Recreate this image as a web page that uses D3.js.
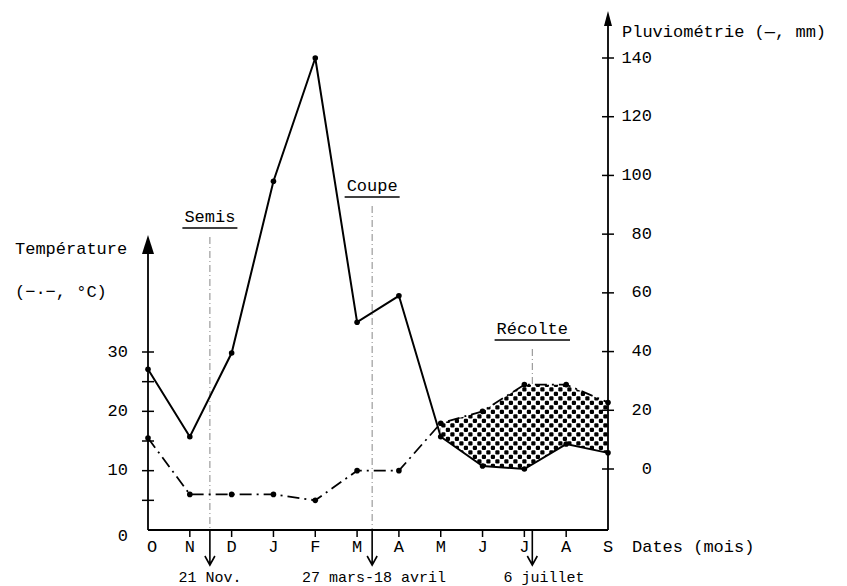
<!DOCTYPE html>
<html>
<head>
<meta charset="utf-8">
<script src="https://cdn.jsdelivr.net/npm/d3@7"></script>
<style>
  body { margin: 0; background: #fff; }
  text { font-family: "Liberation Mono", "DejaVu Sans Mono", monospace; fill: #000; }
</style>
</head>
<body>
<script>
// months of the season, Oct -> Sept
var months = ["O", "N", "D", "J", "F", "M", "A", "M", "J", "J", "A", "S"];
// rainfall, mm (solid line)
var rainfall = [34, 11, 39.5, 98, 140, 50, 59, 11, 1, 0, 8.5, 5.5];
// temperature, °C (dash-dot line)
var temperature = [15.5, 6, 6, 6, 5, 10, 10, 18, 20, 24.5, 24.5, 21.5];
var rainTicks = [0, 20, 40, 60, 80, 100, 120, 140];
var tempTicks = [5, 10, 15, 20, 25, 30];
var tempLabels = [0, 10, 20, 30];
// events : label, position in month index, date text
var events = ["Semis", "Coupe", "Récolte"];
var eventPos = [1.48, 5.36, 9.19];
var eventDates = ["21 Nov.", "27 mars-18 avril", "6 juillet"];

var width = 847, height = 586;
var x0 = 148, x1 = 608, yAxis = 530;

var svg = d3.select("body").append("svg")
    .attr("width", width)
    .attr("height", height);

var defs = svg.append("defs");
var pat = defs.append("pattern")
    .attr("id", "checker")
    .attr("patternUnits", "userSpaceOnUse")
    .attr("width", 9).attr("height", 9);
pat.append("rect").attr("x", 0.3).attr("y", 0.3).attr("width", 4.2).attr("height", 4.2).attr("rx", 1.2).attr("fill", "#000");
pat.append("rect").attr("x", 4.8).attr("y", 4.8).attr("width", 4.2).attr("height", 4.2).attr("rx", 1.2).attr("fill", "#000");

var x = d3.scaleLinear().domain([0, months.length - 1]).range([x0, x1]);
var yRain = d3.scaleLinear().domain([0, 140]).range([469, 58]);
var yTemp = d3.scaleLinear().domain([0, 30]).range([yAxis, 352]);

var idx = d3.range(months.length);

// checkered area between temperature and rainfall, May -> Sept
var area = d3.area()
    .x(function(i) { return x(i); })
    .y0(function(i) { return yRain(rainfall[i]); })
    .y1(function(i) { return yTemp(temperature[i]); });
svg.append("path")
    .datum(idx.slice(7))
    .attr("d", area)
    .attr("fill", "url(#checker)");

// event guide lines (dotted)
var labelY = [217, 186, 329];
events.forEach(function(name, k) {
  var ex = x(eventPos[k]);
  var yEnd = yAxis;
  if (k == 2) {
    var i = Math.floor(eventPos[k]), f = eventPos[k] - i;
    yEnd = yTemp(temperature[i] + (temperature[i + 1] - temperature[i]) * f);
  }
  svg.append("line")
      .attr("x1", ex).attr("x2", ex)
      .attr("y1", labelY[k] + 20).attr("y2", yEnd)
      .attr("stroke", "#888").attr("stroke-width", 1)
      .attr("stroke-dasharray", "7,3,1,3");

  var t = svg.append("text")
      .attr("x", ex).attr("y", labelY[k])
      .attr("text-anchor", "middle")
      .attr("dominant-baseline", "central")
      .style("font-size", "17px")
      .text(name);
  var w = t.node().getComputedTextLength();
  svg.append("line")
      .attr("x1", ex - w / 2 - 2).attr("x2", ex + w / 2 + 2)
      .attr("y1", labelY[k] + 11).attr("y2", labelY[k] + 11)
      .attr("stroke", "#000").attr("stroke-width", 1.3);

  // arrow under the axis
  svg.append("path")
      .attr("d", "M" + ex + "," + yAxis + "V" + 565 + "M" + (ex - 5) + "," + 556 + "L" + ex + "," + 565 + "L" + (ex + 5) + "," + 556)
      .attr("fill", "none").attr("stroke", "#000").attr("stroke-width", 1.6);
});

var dateX = [210, 374, 544];
svg.selectAll(".date")
    .data(eventDates)
    .enter().append("text")
    .attr("class", "date")
    .attr("x", function(d, i) { return dateX[i]; })
    .attr("y", 578)
    .attr("text-anchor", "middle")
    .attr("dominant-baseline", "central")
    .style("font-size", "15px")
    .text(function(d) { return d; });

// axes
var axes = svg.append("g").attr("stroke", "#000").attr("stroke-width", 1.8).attr("fill", "none");
axes.append("line").attr("x1", x0).attr("x2", x1).attr("y1", yAxis).attr("y2", yAxis);
axes.append("line").attr("x1", x0).attr("x2", x0).attr("y1", 250).attr("y2", yAxis);
axes.append("line").attr("x1", x1).attr("x2", x1).attr("y1", 22).attr("y2", yAxis);
svg.append("path").attr("d", "M" + x0 + ",235L" + (x0 - 6) + ",254L" + (x0 + 6) + ",254Z").attr("fill", "#000");
svg.append("path").attr("d", "M" + x1 + ",11L" + (x1 - 4) + ",26L" + (x1 + 4) + ",26Z").attr("fill", "#000");

// left axis ticks
svg.selectAll(".ltick")
    .data(tempTicks)
    .enter().append("line")
    .attr("x1", x0 - 6).attr("x2", x0 + 6)
    .attr("y1", function(d) { return yTemp(d); })
    .attr("y2", function(d) { return yTemp(d); })
    .attr("stroke", "#000").attr("stroke-width", 1.5);
svg.selectAll(".llab")
    .data(tempLabels)
    .enter().append("text")
    .attr("x", 128)
    .attr("y", function(d) { return yTemp(d) + (d == 0 ? 6 : 0); })
    .attr("text-anchor", "end")
    .attr("dominant-baseline", "central")
    .style("font-size", "17px")
    .text(function(d) { return d; });

// right axis ticks
svg.selectAll(".rtick")
    .data(rainTicks)
    .enter().append("line")
    .attr("x1", x1 - 6).attr("x2", x1 + 6)
    .attr("y1", function(d) { return yRain(d); })
    .attr("y2", function(d) { return yRain(d); })
    .attr("stroke", "#000").attr("stroke-width", 1.5);
svg.selectAll(".rlab")
    .data(rainTicks)
    .enter().append("text")
    .attr("x", 652)
    .attr("y", function(d) { return yRain(d); })
    .attr("text-anchor", "end")
    .attr("dominant-baseline", "central")
    .style("font-size", "17px")
    .text(function(d) { return d; });

// month ticks and labels
svg.selectAll(".mtick")
    .data(idx.slice(1, 11))
    .enter().append("line")
    .attr("x1", function(i) { return x(i); })
    .attr("x2", function(i) { return x(i); })
    .attr("y1", yAxis).attr("y2", yAxis + 7)
    .attr("stroke", "#000").attr("stroke-width", 1.5);
svg.selectAll(".mlab")
    .data(months)
    .enter().append("text")
    .attr("x", function(d, i) { return i == 0 ? x(i) + 4 : x(i); })
    .attr("y", 547)
    .attr("text-anchor", "middle")
    .attr("dominant-baseline", "central")
    .style("font-size", "17px")
    .text(function(d) { return d; });

// lines
var rainLine = d3.line()
    .x(function(i) { return x(i); })
    .y(function(i) { return yRain(rainfall[i]); });
var tempLine = d3.line()
    .x(function(i) { return x(i); })
    .y(function(i) { return yTemp(temperature[i]); });

svg.append("path")
    .datum(idx)
    .attr("d", rainLine)
    .attr("fill", "none").attr("stroke", "#000").attr("stroke-width", 2);
svg.append("path")
    .datum(idx)
    .attr("d", tempLine)
    .attr("fill", "none").attr("stroke", "#000").attr("stroke-width", 1.8)
    .attr("stroke-dasharray", "12,5,2,5");

svg.selectAll(".rdot")
    .data(idx)
    .enter().append("circle")
    .attr("cx", function(i) { return x(i); })
    .attr("cy", function(i) { return yRain(rainfall[i]); })
    .attr("r", 2.8).attr("fill", "#000");
svg.selectAll(".tdot")
    .data(idx)
    .enter().append("circle")
    .attr("cx", function(i) { return x(i); })
    .attr("cy", function(i) { return yTemp(temperature[i]); })
    .attr("r", 2.8).attr("fill", "#000");

// titles
svg.append("text").attr("x", 15).attr("y", 249)
    .attr("dominant-baseline", "central").style("font-size", "17px")
    .text("Température");
svg.append("text").attr("x", 15).attr("y", 292)
    .attr("dominant-baseline", "central").style("font-size", "17px")
    .text("(−·−, °C)");
svg.append("text").attr("x", 622).attr("y", 32)
    .attr("dominant-baseline", "central").style("font-size", "17px")
    .text("Pluviométrie (—, mm)");
svg.append("text").attr("x", 632).attr("y", 547)
    .attr("dominant-baseline", "central").style("font-size", "17px")
    .text("Dates (mois)");
</script>
</body>
</html>
